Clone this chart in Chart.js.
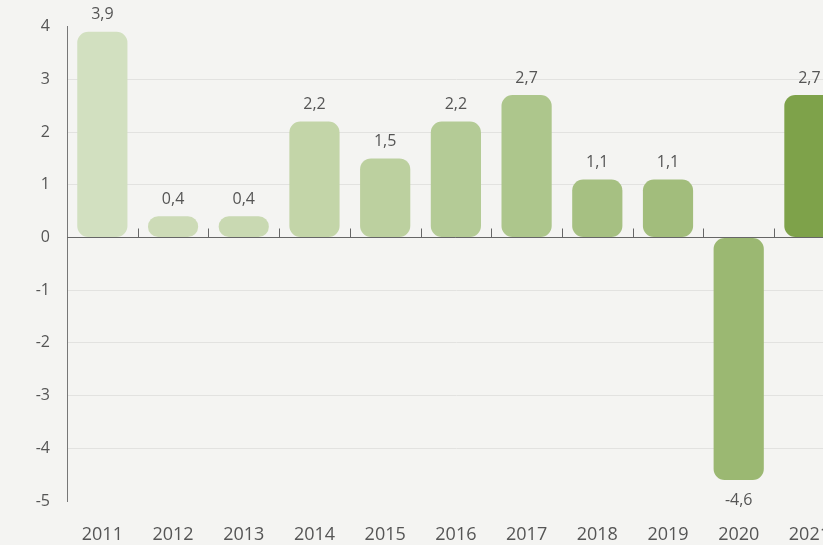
<!DOCTYPE html>
<html>
<head>
<meta charset="utf-8">
<script src="https://cdn.jsdelivr.net/npm/chart.js@4"></script>
<style>
    html, body { margin: 0; padding: 0; overflow: hidden; background: #f4f4f2; }
    #wrap { width: 853px; height: 545px; }
</style>
</head>
<body>
<div id="wrap"><canvas id="chart"></canvas></div>
<script>
const years = ["2011", "2012", "2013", "2014", "2015", "2016", "2017", "2018", "2019", "2020", "2021"];
const growth = [3.9, 0.4, 0.4, 2.2, 1.5, 2.2, 2.7, 1.1, 1.1, -4.6, 2.7];
const barColors = ["#d2e0c0", "#cddbb7", "#c9d9b2", "#c3d5a8", "#bcd09f", "#b4cb96", "#adc68c", "#a6c082", "#a2bd7c", "#9bb872", "#7ea24a"];
const yTicks = [4, 3, 2, 1, 0, -1, -2, -3, -4, -5];

const textColor = "#555";
const font = "'Open Sans', sans-serif";

// valores sobre / bajo las barras, con coma decimal
const valueLabels = {
    id: "valueLabels",
    afterDatasetsDraw(chart) {
        const ctx = chart.ctx;
        const meta = chart.getDatasetMeta(0);
        ctx.save();
        ctx.font = "16px " + font;
        ctx.fillStyle = textColor;
        ctx.textAlign = "center";
        ctx.textBaseline = "middle";
        meta.data.forEach((bar, i) => {
            const v = growth[i];
            const y = v >= 0 ? bar.y - 17 : bar.y + 21;
            ctx.fillText(String(v).replace(".", ","), bar.x, y);
        });
        ctx.restore();
    },
};

// línea del cero con marcas entre categorías
const zeroAxis = {
    id: "zeroAxis",
    beforeDatasetsDraw(chart) {
        const { ctx, chartArea, scales } = chart;
        const y0 = Math.round(scales.y.getPixelForValue(0)) + 0.5;
        ctx.save();
        ctx.strokeStyle = "#666";
        ctx.lineWidth = 1;
        ctx.beginPath();
        ctx.moveTo(chartArea.left, y0);
        ctx.lineTo(chartArea.right, y0);
        const step = scales.x.width / years.length;
        for (let i = 1; i < years.length; i++) {
            const x = Math.round(chartArea.left + i * step) + 0.5;
            ctx.moveTo(x, y0);
            ctx.lineTo(x, y0 - 9);
        }
        ctx.stroke();
        ctx.restore();
    },
};

new Chart(document.getElementById("chart"), {
    type: "bar",
    data: {
        labels: years,
        datasets: [{
            data: growth,
            backgroundColor: barColors,
            borderRadius: 11,
            borderSkipped: false,
            barPercentage: 0.71,
            categoryPercentage: 1,
        }],
    },
    options: {
        responsive: true,
        maintainAspectRatio: false,
        animation: false,
        layout: { padding: { top: 16, right: 0, left: 0, bottom: 0 } },
        plugins: {
            legend: { display: false },
            tooltip: { enabled: false },
        },
        scales: {
            x: {
                afterFit: (s) => { s.height = 44; },
                grid: { display: false, drawTicks: false },
                border: { display: false },
                ticks: {
                    color: textColor,
                    font: { family: font, size: 18 },
                    padding: 23,
                    maxRotation: 0,
                },
            },
            y: {
                min: -5,
                max: 4,
                afterFit: (s) => { s.width = 67; },
                afterBuildTicks: (s) => { s.ticks = yTicks.map((v) => ({ value: v })); },
                grid: {
                    drawTicks: false,
                    color: (c) => {
                        const v = c.tick ? c.tick.value : null;
                        if (v === 4 || v === -5 || v === 0) return "rgba(0,0,0,0)";
                        return "#e2e2e0";
                    },
                },
                border: { display: true, color: "#777", width: 1 },
                ticks: {
                    color: textColor,
                    font: { family: font, size: 16 },
                    padding: 17,
                    stepSize: 1,
                },
            },
        },
    },
    plugins: [zeroAxis, valueLabels],
});
</script>
</body>
</html>
